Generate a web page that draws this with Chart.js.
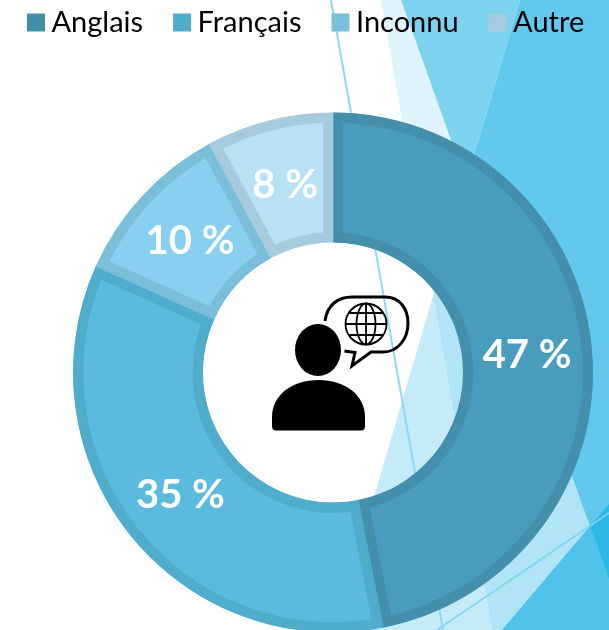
<!DOCTYPE html>
<html lang="fr">
<head>
<meta charset="utf-8">
<title>Langue</title>
<script src="https://cdn.jsdelivr.net/npm/chart.js@4"></script>
<style>
html,body{margin:0;padding:0;background:#fff;overflow:hidden;width:609px;height:630px}
#bg,#icon{position:absolute;left:0;top:0;width:609px;height:630px}
#wrap{position:absolute;left:0;top:0;width:609px;height:630px}
</style>
</head>
<body>
<svg id="bg" viewBox="0 0 609 630" aria-hidden="true">
  <polygon points="381,0 401,0 466,182 433,296" fill="#DFF3FB"/>
  <polygon points="401,0 520,0 466,182" fill="#7DD2F0"/>
  <polygon points="520,0 609,0 609,580 466,182" fill="#62C8EE"/>
  <polygon points="433,296 335,630 492,630" fill="#C5EBF9"/>
  <polygon points="433,296 466,182 609,580 609,630 492,630" fill="#B0E4F6"/>
  <polygon points="502,630 590,526 609,580 609,630" fill="#4FC3EC"/>
  <polygon points="590,526 609,504 609,580" fill="#2DB9E8"/>
  <line x1="331" y1="0" x2="443" y2="630" stroke="#8FD9F2" stroke-width="2"/>
  <line x1="437" y1="630" x2="609" y2="513" stroke="#7DD5F2" stroke-width="1.6"/>
</svg>
<div id="wrap"><canvas id="c" width="609" height="630"></canvas></div>
<svg id="icon" viewBox="0 0 609 630" aria-hidden="true">
  <ellipse cx="318" cy="350" rx="23" ry="26"/>
  <path d="M276 430.5H361Q365 430.5 365 426V417C365 395 345 380 318.5 380C292 380 272 395 272 417V426Q272 430.5 276 430.5Z"/>
  <path d="M325 321C327 305 338 297 352 297H385C400 297 408 309 408 323C408 340 397 352 383 352H371L352 366L355 352.5L344.5 351" fill="none" stroke="#000" stroke-width="3"/>
  <g fill="none" stroke="#000" stroke-width="1.8">
    <circle cx="366" cy="324" r="20.5"/>
    <ellipse cx="366" cy="324" rx="9.5" ry="20.5"/>
    <line x1="366" y1="303.5" x2="366" y2="344.5"/>
    <line x1="345.5" y1="324" x2="386.5" y2="324"/>
    <line x1="349" y1="313" x2="383" y2="313"/>
    <line x1="349" y1="335" x2="383" y2="335"/>
  </g>
</svg>
<script>
const categories = ["Anglais", "Français", "Inconnu", "Autre"];
const shares = [46.9, 34.8, 10.4, 7.9];
const shareTexts = ["47 %", "35 %", "10 %", "8 %"];
const fillColors = ["#4A9CBC", "#5ABBDF", "#87D0F0", "#B8E1F5"];
const edgeColors = ["#448FAC", "#50ACCB", "#7ABED9", "#A6CBDC"];

const placeRing = {
  id: "placeRing",
  afterLayout(chart) {
    chart.chartArea = {left: 73, right: 593, top: 112.5, bottom: 632.5, width: 520, height: 520};
    chart.legend.top = -30;
    chart.legend.left = -3;
    chart.legend.right = 720;
  }
};
const shareLabels = {
  id: "shareLabels",
  afterDatasetsDraw(chart) {
    const ctx = chart.ctx;
    ctx.save();
    ctx.font = "700 40px Lato";
    ctx.fillStyle = "#fff";
    ctx.textAlign = "center";
    ctx.textBaseline = "middle";
    chart.getDatasetMeta(0).data.forEach((arc, i) => {
      const p = arc.tooltipPosition();
      ctx.fillText(shareTexts[i], p.x, p.y + 1.5);
    });
    ctx.restore();
  }
};
new Chart(document.getElementById("c"), {
  type: "doughnut",
  plugins: [placeRing, shareLabels],
  data: {
    labels: categories,
    datasets: [{
      data: shares,
      backgroundColor: fillColors,
      borderColor: edgeColors,
      borderWidth: 10,
      borderAlign: "inner",
      borderJoinStyle: "miter"
    }]
  },
  options: {
    responsive: false,
    animation: false,
    cutout: "50%",
    layout: {padding: {left: -60, right: -60}},
    plugins: {
      tooltip: {enabled: false},
      legend: {
        position: "top",
        align: "start",
        labels: {
          color: "#000",
          font: {family: "Lato", size: 29},
          padding: 38,
          boxWidth: 2,
          boxHeight: 18,
          usePointStyle: true,
          generateLabels: (chart) => categories.map((name, i) => ({
            text: name,
            fillStyle: edgeColors[i],
            strokeStyle: edgeColors[i],
            lineWidth: 0,
            pointStyle: "rect",
            hidden: false,
            index: i
          }))
        }
      }
    }
  }
});
</script>
</body>
</html>
